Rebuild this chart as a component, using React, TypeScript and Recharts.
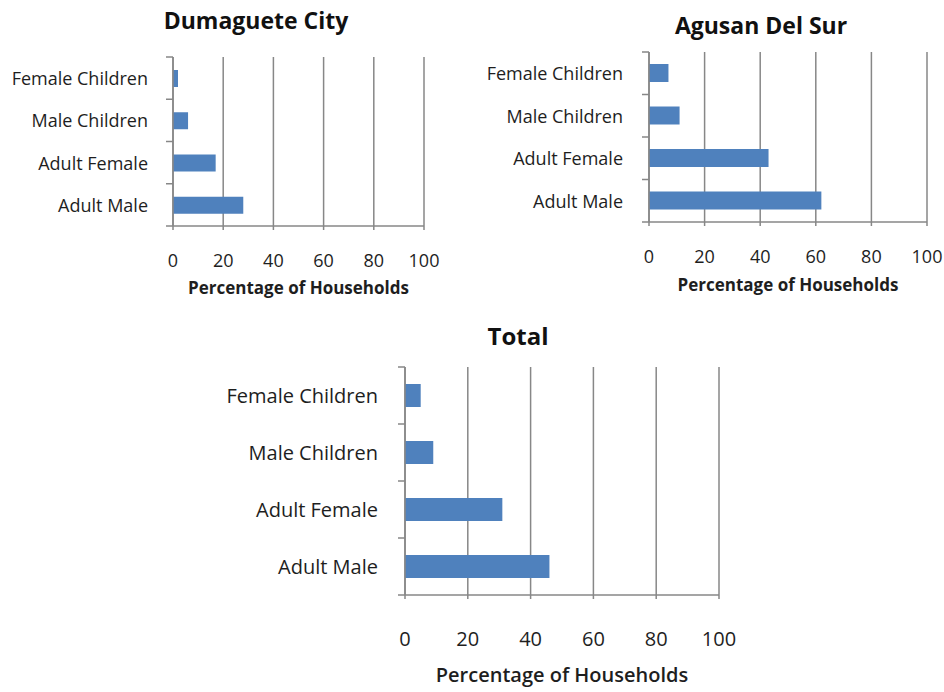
import React from 'react';
import { BarChart, Bar, XAxis, YAxis, CartesianGrid, Label } from 'recharts';

const categories = ['Female Children', 'Male Children', 'Adult Female', 'Adult Male'];
const dumagueteValues = [2, 6, 17, 28];
const agusanValues = [7, 11, 43, 62];
const totalValues = [5, 9, 31, 46];
const xTicks = [0, 20, 40, 60, 80, 100];
const titles = ['Dumaguete City', 'Agusan Del Sur', 'Total'];
const xAxisTitle = 'Percentage of Households';

const BAR = '#4F81BD';
const GRID = '#878787';
const TEXT = '#1e1e1e';
const FONT = '"Open Sans", "Liberation Sans", sans-serif';

const build = (vals: number[]) => categories.map((c, i) => ({ name: c, value: vals[i] }));

type PanelProps = {
  left: number;
  top: number;
  width: number;
  height: number;
  margin: { top: number; right: number; bottom: number; left: number };
  yWidth: number;
  xHeight: number;
  values: number[];
  barSize: number;
  labelSize: number;
  labelGap: number;
  tickSize: number;
  tickGap: number;
  xTitleSize: number;
  xTitleWeight: number | string;
  xTitleText: string;
  xTitleOffset: number;
  title: string;
  titleSize: number;
  titleX: number;
  titleY: number;
};

const Panel = (p: PanelProps) => {
  const data = build(p.values);
  const plotH = p.height - p.margin.top - p.margin.bottom - p.xHeight;
  const band = plotH / categories.length;
  const YTick = (props: any) => {
    const { x, y, payload, index } = props;
    const ax = x + p.labelGap;
    return (
      <g>
        <text x={x} y={y} textAnchor="end" dominantBaseline="central" fontSize={p.labelSize} fill={TEXT} fontFamily={FONT}>
          {payload.value}
        </text>
        <line x1={ax - 7} x2={ax} y1={y - band / 2} y2={y - band / 2} stroke={GRID} strokeWidth={1.5} />
        {index === categories.length - 1 && (
          <line x1={ax - 7} x2={ax} y1={y + band / 2} y2={y + band / 2} stroke={GRID} strokeWidth={1.5} />
        )}
      </g>
    );
  };
  return (
    <div style={{ position: 'absolute', left: p.left, top: p.top, width: p.width, height: p.height }}>
      <div
        style={{
          position: 'absolute',
          left: p.titleX - 150,
          top: p.titleY - p.titleSize * 0.7,
          width: 300,
          textAlign: 'center',
          fontFamily: FONT,
          fontWeight: 'bold',
          fontSize: p.titleSize,
          lineHeight: `${p.titleSize * 1.4}px`,
          color: '#111',
        }}
      >
        {p.title}
      </div>
      <BarChart width={p.width} height={p.height} data={data} layout="vertical" margin={p.margin}>
        <CartesianGrid horizontal={false} vertical={true} stroke={GRID} strokeWidth={1.5} />
        <XAxis
          type="number"
          domain={[0, 100]}
          ticks={xTicks}
          interval={0}
          height={p.xHeight}
          tickSize={4}
          tickMargin={p.tickGap}
          axisLine={{ stroke: GRID, strokeWidth: 1.5 }}
          tickLine={{ stroke: GRID, strokeWidth: 1.5 }}
          tick={{ fill: TEXT, fontSize: p.tickSize, fontFamily: FONT }}
        >
          <Label
            value={p.xTitleText}
            position="insideBottom"
            offset={p.xTitleOffset}
            style={{ fill: TEXT, fontSize: p.xTitleSize, fontWeight: p.xTitleWeight as any, fontFamily: FONT }}
          />
        </XAxis>
        <YAxis
          type="category"
          dataKey="name"
          width={p.yWidth}
          tickSize={0}
          tickMargin={p.labelGap}
          tickLine={false}
          axisLine={{ stroke: GRID, strokeWidth: 1.5 }}
          tick={<YTick />}
          interval={0}
        />
        <Bar dataKey="value" fill={BAR} barSize={p.barSize} isAnimationActive={false} />
      </BarChart>
    </div>
  );
};

export default function App() {
  return (
    <div style={{ position: 'absolute', left: 0, top: 0, width: 944, height: 692, background: '#fff' }}>
      <Panel
        left={0}
        top={0}
        width={460}
        height={300}
        margin={{ top: 57, right: 36, bottom: 5, left: 13 }}
        yWidth={160}
        xHeight={69}
        values={dumagueteValues}
        barSize={17}
        labelSize={18}
        labelGap={25}
        tickSize={18}
        tickGap={24}
        xTitleSize={17}
        xTitleWeight="bold"
        xTitleText={'Percentage  of Households'}
        xTitleOffset={1}
        title={titles[0]}
        titleSize={23}
        titleX={256}
        titleY={20}
      />
      <Panel
        left={460}
        top={0}
        width={484}
        height={300}
        margin={{ top: 52, right: 17, bottom: 9, left: 19 }}
        yWidth={170}
        xHeight={69}
        values={agusanValues}
        barSize={18}
        labelSize={18}
        labelGap={26}
        tickSize={18}
        tickGap={24}
        xTitleSize={17}
        xTitleWeight="bold"
        xTitleText={xAxisTitle}
        xTitleOffset={0}
        title={titles[1]}
        titleSize={23}
        titleX={301}
        titleY={25}
      />
      <Panel
        left={200}
        top={310}
        width={560}
        height={382}
        margin={{ top: 57, right: 41, bottom: 4, left: 5 }}
        yWidth={200}
        xHeight={93}
        values={totalValues}
        barSize={23}
        labelSize={20}
        labelGap={27}
        tickSize={20}
        tickGap={33}
        xTitleSize={20}
        xTitleWeight={600}
        xTitleText={xAxisTitle}
        xTitleOffset={6}
        title={titles[2]}
        titleSize={24}
        titleX={318}
        titleY={26}
      />
    </div>
  );
}
